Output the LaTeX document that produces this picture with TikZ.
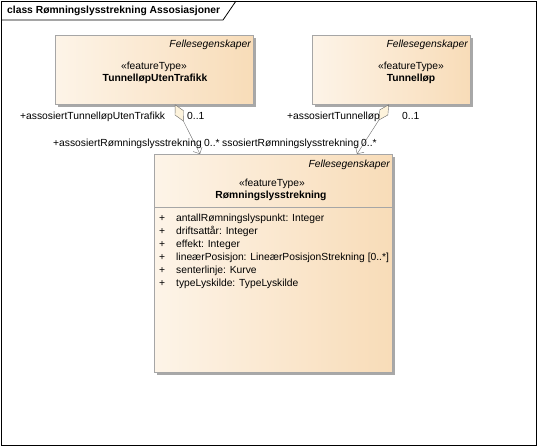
\documentclass[tikz,border=0pt]{standalone}
\usepackage{fontspec}
\setmainfont{Liberation Sans}
\usetikzlibrary{arrows.meta,positioning,calc,shadows}

\definecolor{boxleft}{HTML}{FDF4E8}
\definecolor{boxright}{HTML}{F8DCB8}
\definecolor{boxline}{HTML}{A6A6A6}
\definecolor{shadowgray}{HTML}{A8A8A8}
\definecolor{linkgray}{HTML}{6A6A6A}
\definecolor{diamondfill}{HTML}{FDF3DC}

\tikzset{
  classbox/.style={draw=boxline, left color=boxleft, right color=boxright,
    anchor=north west, inner sep=0pt,
    general shadow={fill=shadowgray, shadow xshift=3pt, shadow yshift=-3pt}},
  umltxt/.style={font=\fontsize{10.3}{12}\selectfont, inner sep=0pt, anchor=base},
  stereo/.style={umltxt},
  classname/.style={umltxt, font=\fontsize{10.3}{12}\selectfont\bfseries},
  pkgname/.style={umltxt, font=\fontsize{10.3}{12}\selectfont\itshape, anchor=base east},
  attr/.style={umltxt, anchor=base west},
  rolelabel/.style={umltxt, anchor=base west},
  assoc/.style={linkgray, {Diamond[fill=diamondfill, length=19pt, width=10pt]}-{Straight Barb[length=5pt, width=10pt]}}
}

\begin{document}
\begin{tikzpicture}[x=1pt, y=-1pt]
    \useasboundingbox (0,0) rectangle (537,446);

    % Diagram frame
    \draw[line width=0.8pt] (1,1) rectangle (536,445);
    \draw[line width=0.8pt] (1,20) -- (223,20) -- (236,1);
    \node[umltxt, anchor=base west, font=\fontsize{10.3}{12}\selectfont\bfseries] (title) at (7,14)
        {class Rømningslysstrekning Assosiasjoner};

    % TunnelløpUtenTrafikk
    \node[classbox, minimum width=198pt, minimum height=69pt] (tul) at (55,35) {};
    \node[pkgname] (tulpkg) at (251,48) {Fellesegenskaper};
    \node[stereo] (tulst) at (154,70) {«featureType»};
    \node[classname] (tulname) at (155,82) {TunnelløpUtenTrafikk};

    % Tunnelløp
    \node[classbox, minimum width=158pt, minimum height=69pt] (tl) at (312,35) {};
    \node[pkgname] (tlpkg) at (468,48) {Fellesegenskaper};
    \node[stereo] (tlst) at (411,70) {«featureType»};
    \node[classname] (tlname) at (411,82) {Tunnelløp};

    % Rømningslysstrekning
    \node[classbox, minimum width=238pt, minimum height=218pt] (rls) at (154,154) {};
    \node[pkgname] (rlspkg) at (390,168) {Fellesegenskaper};
    \node[stereo] (rlsst) at (272,187) {«featureType»};
    \node[classname] (rlsname) at (271,198) {Rømningslysstrekning};
    \draw[boxline] (rls.west |- 0,207) coordinate (sepl) -- (sepl -| rls.east);

    % attributes
    \node[attr] (p1) at (159,221) {+};
    \node[attr] (a1) at (176,221) {antallRømningslyspunkt: Integer};
    \node[attr] (p2) at (159,234) {+};
    \node[attr] (a2) at (176,234) {driftsattår: Integer};
    \node[attr] (p3) at (159,247) {+};
    \node[attr] (a3) at (176,247) {effekt: Integer};
    \node[attr] (p4) at (159,260) {+};
    \node[attr] (a4) at (176,260) {lineærPosisjon: LineærPosisjonStrekning [0..*]};
    \node[attr] (p5) at (159,273) {+};
    \node[attr] (a5) at (176,273) {senterlinje: Kurve};
    \node[attr] (p6) at (159,286) {+};
    \node[attr] (a6) at (176,286) {typeLyskilde: TypeLyskilde};

    % Associations
    \coordinate (tulend) at ([xshift=120pt]tul.south west);
    \coordinate (rlsendA) at ([xshift=46pt]rls.north west);
    \coordinate (tlend) at ([xshift=77pt]tl.south west);
    \coordinate (rlsendB) at ([xshift=203pt]rls.north west);
    \draw[assoc] (tulend) -- (rlsendA);
    \draw[assoc] (tlend) -- (rlsendB);

    \node[rolelabel] (r1) at (20,120) {+assosiertTunnelløpUtenTrafikk};
    \node[rolelabel] (m1) at (187,120) {0..1};
    \node[rolelabel] (r2) at (53,147) {+assosiertRømningslysstrekning};
    \node[rolelabel] (m2) at (204,147) {0..*};
    \node[rolelabel] (r3) at (222,147) {ssosiertRømningslysstrekning};
    \node[rolelabel] (m3) at (361,147) {0..*};
    \node[rolelabel] (r4) at (287,120) {+assosiertTunnelløp};
    \node[rolelabel] (m4) at (402,120) {0..1};
\end{tikzpicture}
\end{document}
